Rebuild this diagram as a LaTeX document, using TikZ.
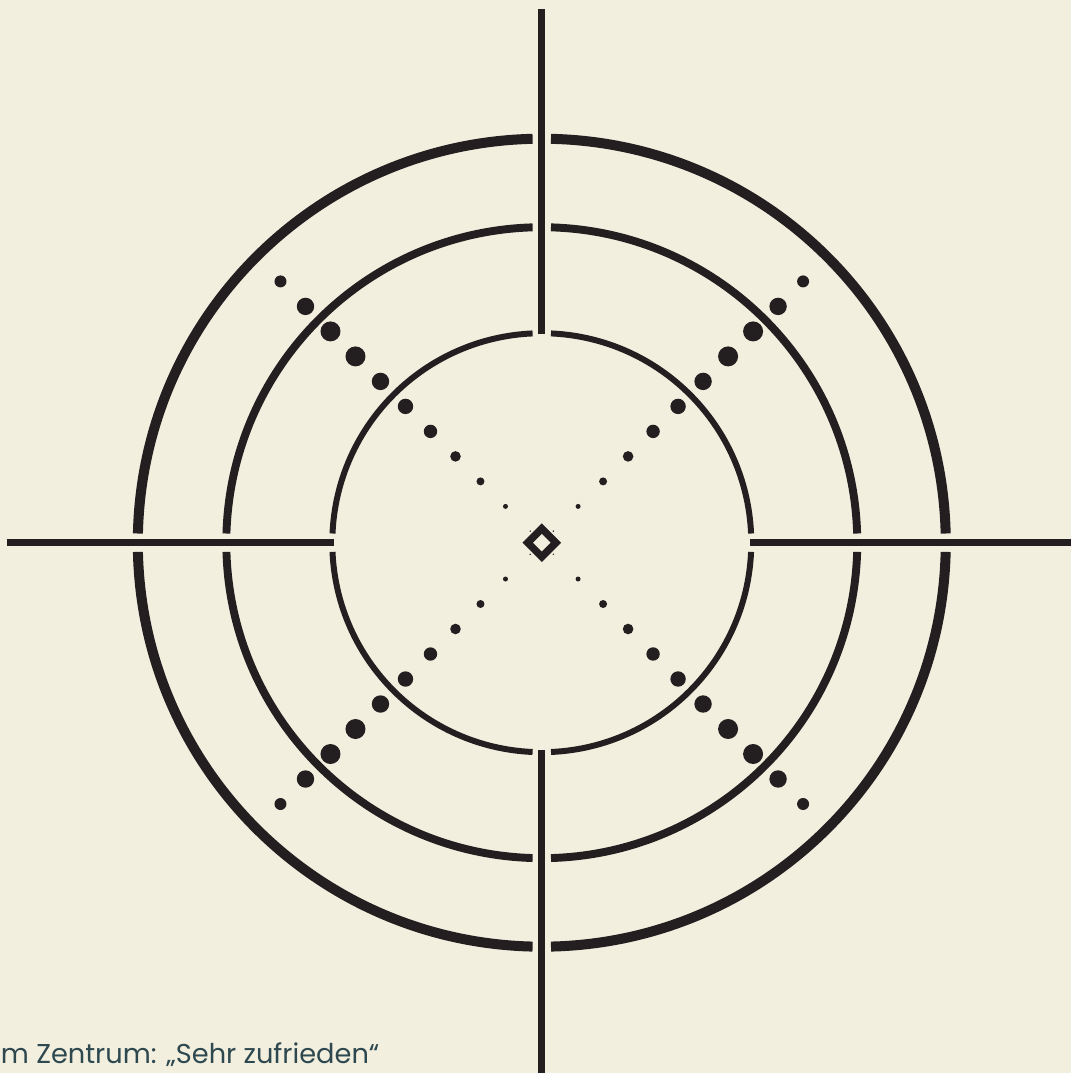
\documentclass[tikz,border=0pt]{standalone}
\usepackage{fontspec}
\setmainfont{Poppins}
\usepackage{tikz}
\usetikzlibrary{calc}

\definecolor{paper}{HTML}{F2EFDF}
\definecolor{ink}{HTML}{231F20}
\definecolor{note}{HTML}{2E4850}

\begin{document}
\begin{tikzpicture}[
  axis/.style={draw=ink, line width=1.9pt},
  ring/.style={draw=ink, line cap=butt},
  dot/.style={fill=ink},
  mark box/.style={draw=ink, line width=2.08pt, line join=miter},
  caption/.style={font=\fontsize{7.75pt}{9.5pt}\selectfont, text=note, inner sep=0pt}
]
  % page
  \fill[paper] (-5.418,-5.303) rectangle (5.292,5.427);
  \useasboundingbox (-5.418,-5.303) rectangle (5.292,5.427);

  \coordinate (ctr) at (0,0);

  % rings with gaps at the axes
  \foreach \r/\w in {2.095/1.7pt, 3.155/2.25pt, 4.04/2.85pt}{
    \pgfmathsetmacro{\g}{asin(0.092/\r)}
    \foreach \q in {0,90,180,270}{
      \draw[ring, line width=\w] ($(ctr)+(\q+\g:\r)$)
        arc[start angle=\q+\g, end angle=\q+90-\g, radius=\r];
    }
  }

  % axes
  \coordinate (top)   at (0,5.335);
  \coordinate (topin) at (0,2.085);
  \coordinate (bot)   at (0,-5.31);
  \coordinate (botin) at (0,-2.073);
  \coordinate (lft)   at (-5.345,0);
  \coordinate (lftin) at (-2.078,0);
  \coordinate (rgt)   at (5.30,0);
  \coordinate (rgtin) at (2.082,0);

  \draw[axis] (top) -- (topin);
  \draw[axis] (botin) -- (bot);
  \draw[axis] (lft) -- (lftin);
  \draw[axis] (rgtin) -- (rgt);

  % dots along the diagonals
  \foreach \k/\s in {0/0.025, 1/0.04, 2/0.053, 3/0.067, 4/0.077, 5/0.087, 6/0.10, 7/0.10, 8/0.087, 9/0.06}{
    \foreach \sx/\sy in {1/1, 1/-1, -1/1, -1/-1}{
      \fill[dot] ($(ctr)+(\sx*0.363+\sx*0.25*\k, \sy*0.363+\sy*0.25*\k)$) circle[radius=\s];
    }
  }

  % centre mark
  \draw[mark box] (0,0.1415) -- (0.1415,0) -- (0,-0.1415) -- (-0.1415,0) -- cycle;
  \foreach \sx/\sy in {1/1, 1/-1, -1/1, -1/-1}{
    \fill[dot] (\sx*0.116,\sy*0.116) circle[radius=0.008];
  }

  % note
  \node[caption, anchor=base east] (lbl) at (-1.618,-5.203) {m Zentrum: „Sehr zufrieden“};
\end{tikzpicture}
\end{document}
